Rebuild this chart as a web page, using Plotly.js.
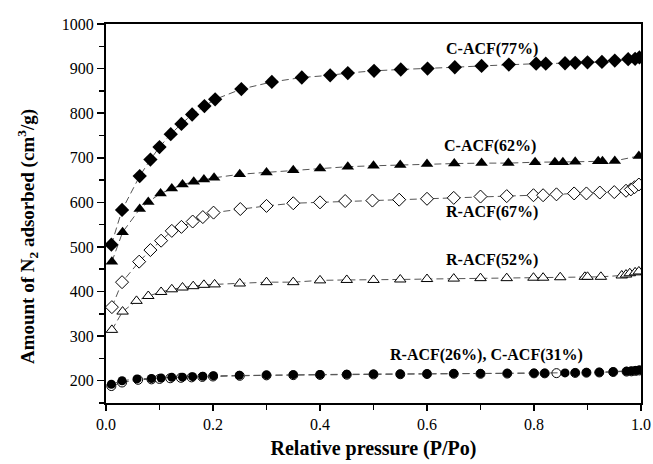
<!DOCTYPE html>
<html>
<head>
<meta charset="utf-8">
<script src="https://cdn.plot.ly/plotly-3.0.1.min.js"></script>
<style>html,body{margin:0;padding:0;background:#fff;}#chart{width:653px;height:464px;}</style>
</head>
<body>
<div id="chart"></div>
<script>
// C-ACF(77%) filled diamonds
const x77 = [0.01,0.03,0.063,0.083,0.1,0.121,0.141,0.161,0.184,0.204,0.253,0.31,0.366,0.419,0.452,0.501,0.551,0.601,0.652,0.702,0.753,0.804,0.822,0.858,0.877,0.9,0.927,0.951,0.976,0.989,0.997];
const y77 = [505,583,659,696,724,753,776,797,816,831,854,870,880,885,890,895,898,900,903,906,909,911,911,912,913,914,915,918,921,922,925];
// C-ACF(62%) filled triangles
const x62 = [0.011,0.031,0.063,0.079,0.102,0.123,0.143,0.164,0.183,0.202,0.25,0.3,0.35,0.4,0.452,0.5,0.55,0.6,0.651,0.702,0.752,0.802,0.839,0.854,0.877,0.92,0.928,0.951,0.996];
const y62 = [467,533,585,601,620,631,640,646,651,655,663,667,672,676,680,682,684,686,687,688,688,690,690,690,691,692,692,693,704];
// R-ACF(67%) open diamonds
const x67 = [0.011,0.03,0.062,0.083,0.103,0.123,0.141,0.162,0.181,0.201,0.251,0.3,0.35,0.4,0.447,0.498,0.548,0.6,0.65,0.7,0.749,0.799,0.817,0.842,0.875,0.898,0.923,0.95,0.972,0.981,0.988,0.996];
const y67 = [365,421,467,493,514,536,545,557,567,577,585,592,598,600,603,604,606,608,610,613,614,616,616,618,620,620,622,623,626,629,634,640];
// R-ACF(52%) open triangles
const x52 = [0.011,0.031,0.057,0.079,0.103,0.123,0.143,0.163,0.183,0.203,0.25,0.3,0.35,0.4,0.45,0.5,0.55,0.6,0.65,0.7,0.749,0.799,0.817,0.849,0.895,0.9,0.925,0.964,0.972,0.979,0.989,0.996];
const y52 = [314,355,379,390,399,405,409,412,415,416,418,421,421,425,426,426,427,428,429,430,430,431,431,432,433,433,433,436,438,441,443,445];
// R-ACF(26%) open circles
const x26 = [0.01,0.03,0.06,0.085,0.1,0.12,0.14,0.16,0.18,0.2,0.25,0.3,0.35,0.4,0.45,0.5,0.55,0.6,0.65,0.7,0.75,0.8,0.82,0.842,0.877,0.898,0.922,0.948,0.973,0.982,0.99,0.997];
const y26 = [188,196,202,203,204,205.5,206.5,207.5,208.5,209.5,211,212,212.5,213,213.5,214,214.5,215,215.5,215.5,216,216.5,216.5,217,217.5,218,218.5,219.5,220.5,221,222,223];
// C-ACF(31%) filled circles
const x31 = [0.01,0.03,0.058,0.085,0.103,0.123,0.143,0.162,0.181,0.201,0.249,0.3,0.35,0.4,0.45,0.5,0.55,0.6,0.65,0.7,0.75,0.8,0.82,0.858,0.877,0.898,0.922,0.948,0.973,0.982,0.99,0.997];
const y31 = [192,200,204,205,206,207.5,208,209,210,211,212,213,213.5,214,214.5,215,215,215.5,216,216,216.5,217,217,217.5,218,218.5,219,220,221,222,223,224];

const labels = ["C-ACF(77%)","C-ACF(62%)","R-ACF(67%)","R-ACF(52%)","R-ACF(26%), C-ACF(31%)"];
const labelX = [0.721,0.718,0.721,0.721,0.712];
const labelY = [945,726,579,471,258];
const xTitle = 'Relative pressure (P/Po)';
const yTitle = 'Amount of N<sub>2</sub> adsorbed (cm<sup>3</sup>/g)';

const lineStyle = {color:'#555', width:1, dash:'7px,4px'};
function tr(x, y, sym, size, open){
  return {x:x, y:y, type:'scatter', mode:'lines+markers', line:lineStyle,
    marker:{symbol:sym, size:size, color: open ? '#fff' : '#000', line:{color:'#000', width: open ? 1 : 0}},
    showlegend:false, hoverinfo:'skip'};
}
const data = [
  tr(x26, y26, 'circle', 9, true),
  tr(x31, y31, 'circle', 9, false),
  tr(x52, y52, 'triangle-up', 10, true),
  tr(x67, y67, 'diamond', 10, true),
  tr(x62, y62, 'triangle-up', 11, false),
  tr(x77, y77, 'diamond', 11, false)
];

const serif = 'Liberation Serif, Times New Roman, serif';
const annos = labels.map((t,i)=>({x:labelX[i], y:labelY[i], xref:'x', yref:'y', text:'<b>'+t+'</b>', showarrow:false,
    font:{family:serif, size:16, color:'#000'}, xanchor:'center', yanchor:'middle'}));
annos.push({x:-0.148, y:0.44, xref:'paper', yref:'paper', text:'<b>'+yTitle+'</b>', textangle:-90, showarrow:false,
    font:{family:serif, size:19, color:'#000'}, xanchor:'center', yanchor:'middle'});
const layout = {
  width:653, height:464,
  margin:{l:106, r:12, t:24, b:61},
  paper_bgcolor:'#fff', plot_bgcolor:'#fff',
  font:{family:serif, color:'#000', size:16},
  xaxis:{range:[0,1], dtick:0.2, tick0:0, tickformat:'.1f', ticks:'outside', ticklen:6, tickwidth:1.5, tickcolor:'#000',
    minor:{dtick:0.1, ticks:'outside', ticklen:5, tickwidth:1.5, tickcolor:'#000'},
    showline:true, linecolor:'#000', linewidth:2, mirror:true, showgrid:false, zeroline:false,
    tickfont:{family:serif, size:16},
    title:{text:'<b>'+xTitle+'</b>', font:{family:serif, size:20}, standoff:9}},
  yaxis:{range:[150,1000], dtick:100, tick0:0, ticks:'outside', ticklen:7, tickwidth:1.5, tickcolor:'#000',
    minor:{dtick:50, ticks:'outside', ticklen:5, tickwidth:1.5, tickcolor:'#000'},
    showline:true, linecolor:'#000', linewidth:2, mirror:true, showgrid:false, zeroline:false,
    tickfont:{family:serif, size:16}},
  annotations: annos
};
Plotly.newPlot('chart', data, layout, {staticPlot:true, displayModeBar:false});
</script>
</body>
</html>
